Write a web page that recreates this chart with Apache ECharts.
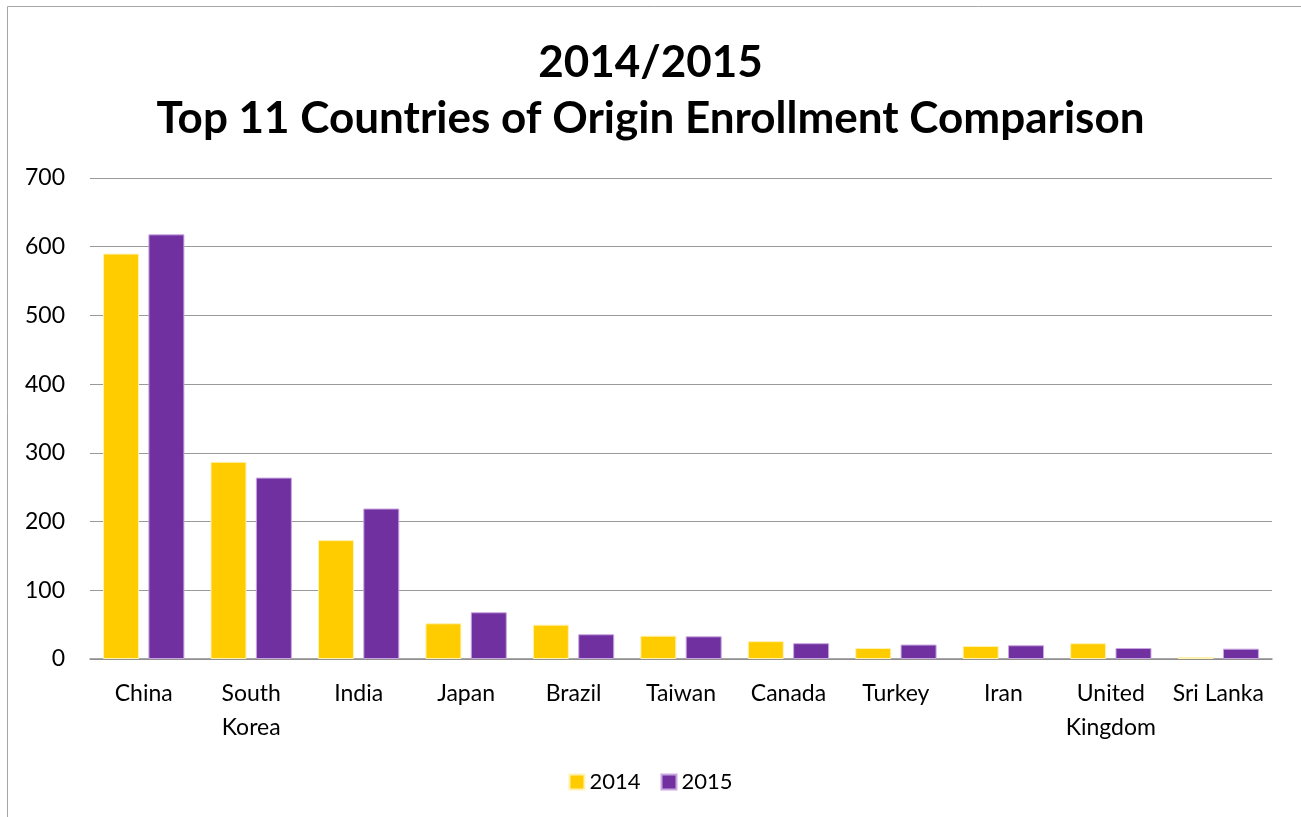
<!DOCTYPE html>
<html>
<head>
<meta charset="utf-8">
<script src="https://cdn.jsdelivr.net/npm/echarts@6/dist/echarts.min.js"></script>
<style>
  html, body { margin: 0; padding: 0; background: #fff; }
  #chart { width: 1301px; height: 817px; }
</style>
</head>
<body>
<div id="chart"></div>
<script>
  const categories = ['China', 'South\nKorea', 'India', 'Japan', 'Brazil', 'Taiwan', 'Canada', 'Turkey', 'Iran', 'United\nKingdom', 'Sri Lanka'];
  const values2014 = [590, 287, 173, 52, 50, 34, 26, 16, 19, 23, 3];
  const values2015 = [618, 264, 219, 68, 36, 33, 23, 21, 20, 16, 15];

  const font = 'Lato, "Open Sans", sans-serif';
  const chart = echarts.init(document.getElementById('chart'));

  chart.setOption({
    backgroundColor: '#fff',
    animation: false,
    graphic: [{
      type: 'rect',
      shape: { x: 7.5, y: 6.5, width: 1300, height: 820 },
      style: { fill: 'none', stroke: '#a6a6a6', lineWidth: 1 },
      silent: true
    }],
    title: {
      text: '2014/2015\nTop 11 Countries of Origin Enrollment Comparison',
      left: 'center',
      top: 30,
      textStyle: {
        fontFamily: font,
        fontSize: 44,
        fontWeight: 'bold',
        color: '#000',
        lineHeight: 56
      }
    },
    legend: {
      bottom: 19,
      left: 'center',
      itemWidth: 15,
      itemHeight: 15,
      itemGap: 20,
      icon: 'rect',
      textStyle: { fontFamily: font, fontSize: 22, color: '#000' },
      data: ['2014', '2015']
    },
    grid: { left: 90, right: 29, top: 178, bottom: 158 },
    xAxis: {
      type: 'category',
      data: categories,
      axisTick: { show: false },
      axisLine: { lineStyle: { color: '#8c8c8c', width: 1.5 } },
      axisLabel: {
        fontFamily: font,
        fontSize: 23,
        color: '#000',
        margin: 18,
        lineHeight: 34,
        interval: 0
      }
    },
    yAxis: {
      type: 'value',
      min: 0,
      max: 700,
      interval: 100,
      axisLine: { show: false },
      axisTick: { show: false },
      axisLabel: { fontFamily: font, fontSize: 23, color: '#000', margin: 25 },
      splitLine: { lineStyle: { color: '#999', width: 1.2 } }
    },
    series: [
      {
        name: '2014',
        type: 'bar',
        data: values2014,
        barWidth: 36,
        barGap: '26%',
        itemStyle: { color: '#ffcc00', borderColor: '#fff2b3', borderWidth: 1 }
      },
      {
        name: '2015',
        type: 'bar',
        data: values2015,
        barWidth: 36,
        barGap: '26%',
        itemStyle: { color: '#7030a0', borderColor: '#c9a6e0', borderWidth: 1 }
      }
    ]
  });
</script>
</body>
</html>
